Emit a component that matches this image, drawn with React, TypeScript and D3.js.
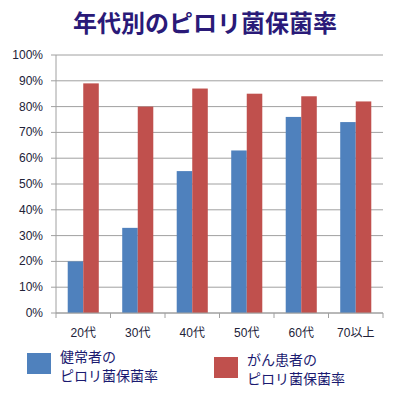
import * as d3 from "d3";
import React from "react";

const categories = ["20代", "30代", "40代", "50代", "60代", "70以上"];
const healthyRates = [20, 33, 55, 63, 76, 74];
const cancerRates = [89, 80, 87, 85, 84, 82];
const yTicks = [0, 10, 20, 30, 40, 50, 60, 70, 80, 90, 100];

const width = 403;
const height = 400;
const margin = { top: 55, right: 20, bottom: 87, left: 56 };

const BLUE = "#4f81bd";
const RED = "#c0504d";
const FONT = "'Liberation Sans', Arial, 'Noto Sans CJK JP', sans-serif";
const JFONT = "'Noto Sans CJK JP', 'Liberation Sans', sans-serif";

export default function App() {
  const x = d3
    .scaleBand()
    .domain(categories)
    .range([margin.left, width - margin.right])
    .padding(0);

  const y = d3
    .scaleLinear()
    .domain([0, 100])
    .range([height - margin.bottom, margin.top]);

  const barW = x.bandwidth() * 0.285;
  const y0 = y(0);

  const series = [
    { values: healthyRates, color: BLUE, offset: -1 },
    { values: cancerRates, color: RED, offset: 0 },
  ];

  return (
    <svg
      width={width}
      height={height}
      style={{ position: "absolute", left: 0, top: 0, background: "#fff" }}
    >
      <text
        x={205}
        y={32}
        textAnchor="middle"
        fontFamily={JFONT}
        fontWeight="bold"
        fontSize={24}
        fill="#2a1a78"
      >
        年代別のピロリ菌保菌率
      </text>

      {/* grid + y axis */}
      {yTicks.map((t) => (
        <g key={t}>
          <line
            x1={margin.left - 5}
            x2={width - margin.right}
            y1={y(t)}
            y2={y(t)}
            stroke="#a0a0a0"
            strokeWidth={1}
          />
          <text
            x={43}
            y={y(t) + 4}
            textAnchor="end"
            fontFamily={FONT}
            fontSize={12}
            fill="#222238"
          >
            {t}%
          </text>
        </g>
      ))}
      <line
        x1={margin.left}
        x2={margin.left}
        y1={margin.top}
        y2={y0}
        stroke="#a0a0a0"
      />

      {/* bars */}
      {series.map((s, si) =>
        categories.map((c, i) => {
          const cx = (x(c) ?? 0) + x.bandwidth() / 2;
          return (
            <rect
              key={`${si}-${c}`}
              x={cx + s.offset * barW}
              y={y(s.values[i])}
              width={barW}
              height={y0 - y(s.values[i])}
              fill={s.color}
            />
          );
        })
      )}

      {/* x axis */}
      <line
        x1={margin.left}
        x2={width - margin.right}
        y1={y0}
        y2={y0}
        stroke="#a0a0a0"
      />
      {categories.map((c) => (
        <line
          key={`tick-${c}`}
          x1={(x(c) ?? 0) + x.bandwidth()}
          x2={(x(c) ?? 0) + x.bandwidth()}
          y1={y0}
          y2={y0 + 5}
          stroke="#a0a0a0"
        />
      ))}
      <line x1={margin.left} x2={margin.left} y1={y0} y2={y0 + 5} stroke="#a0a0a0" />
      {categories.map((c) => (
        <text
          key={`lbl-${c}`}
          x={(x(c) ?? 0) + x.bandwidth() / 2}
          y={337}
          textAnchor="middle"
          fontFamily={FONT}
          fontSize={12}
          fill="#222238"
        >
          {c}
        </text>
      ))}

      {/* legend */}
      <rect x={27} y={353} width={24} height={21} fill={BLUE} />
      <text fontFamily={JFONT} fontSize={14} fill="#1a1a70">
        <tspan x={60} y={362}>健常者の</tspan>
        <tspan x={60} y={381}>ピロリ菌保菌率</tspan>
      </text>
      <rect x={214} y={357} width={24} height={21} fill={RED} />
      <text fontFamily={JFONT} fontSize={14} fill="#1a1a70">
        <tspan x={247} y={365}>がん患者の</tspan>
        <tspan x={247} y={384}>ピロリ菌保菌率</tspan>
      </text>
    </svg>
  );
}
